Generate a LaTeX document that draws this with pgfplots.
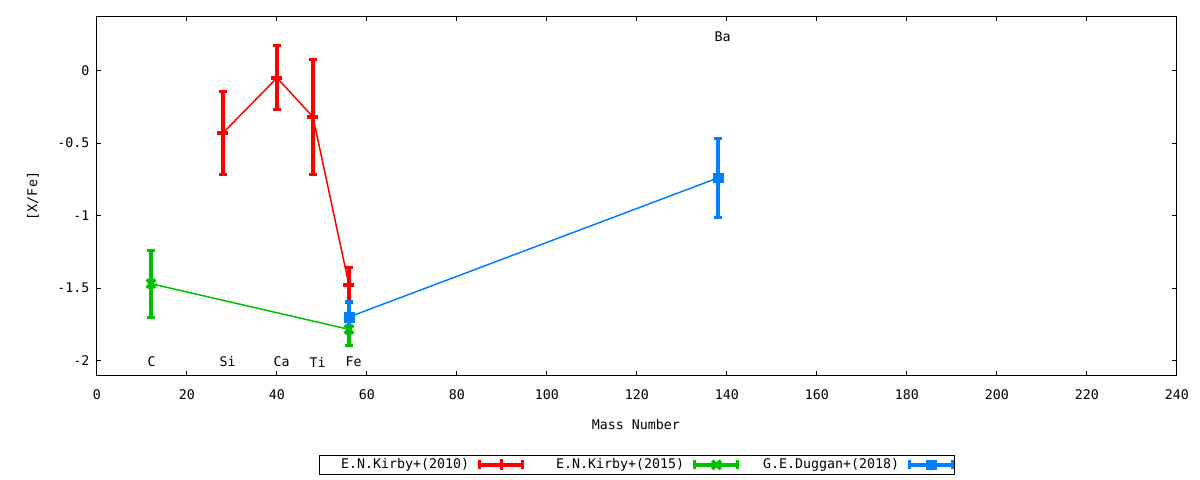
\documentclass[border=0pt]{standalone}
\usepackage{fontspec}
\setmainfont{DejaVu Sans Mono}
\usepackage{pgfplots}
\pgfplotsset{compat=1.18}

\definecolor{gpred}{RGB}{255,0,0}
\definecolor{gpgreen}{RGB}{0,192,0}
\definecolor{gpblue}{RGB}{0,128,255}

\pgfplotsset{
  gperr/.style={
    line width=1.5bp,
    error bars/y dir=both,
    error bars/y explicit,
    error bars/error bar style={line width=3.5bp},
    error bars/error mark options={rotate=90, line width=3bp, mark size=3.8bp},
  },
}

\begin{document}
\fontsize{13.3bp}{16bp}\selectfont
\begin{tikzpicture}
\path[use as bounding box] (-97bp,-105bp) rectangle (1103bp,375bp);
\begin{axis}[
    at={(0,0)}, anchor=south west,
    scale only axis, width=1080bp, height=358bp,
    xmin=0, xmax=240, ymin=-2.1, ymax=0.37,
    xtick={0,20,...,240},
    ytick={-2,-1.5,-1,-0.5,0},
    axis line style={line width=1bp},
    every tick/.style={black, line width=1bp},
    major tick length=4.5bp,
    /pgf/number format/assume math mode=true,
    /pgf/number format/fixed,
    xticklabel style={yshift=-9.5bp},
    yticklabel style={xshift=-3bp},
    xlabel={Mass Number},
    ylabel={[X/Fe]},
    x label style={at={(axis description cs:0.499,-0.137)}, anchor=center},
    y label style={at={(axis description cs:-0.0593,0.5)}, anchor=center},
    legend plot pos=right,
    legend columns=3,
    legend style={
        at={(axis description cs:0.5,-0.251)}, anchor=center,
        draw=black, line width=1bp,
        inner xsep=0bp, inner ysep=0.5bp,
        column sep=0pt,
        /tikz/every odd column/.append style={column sep=9bp},
        /tikz/every even column/.append style={column sep=9.5bp},
        nodes={inner xsep=0pt, inner ysep=3bp, text width=150bp, align=right},
    },
    legend image code/.code={
        \draw[#1, mark=none, line width=3.5bp] (0bp,0bp) -- (43bp,0bp);
        \draw[#1, mark=none, line width=3bp] (0bp,-4.5bp) -- (0bp,4.5bp) (43bp,-4.5bp) -- (43bp,4.5bp);
        \draw[#1] plot coordinates {(21.5bp,0bp)};
    },
]

% E.N.Kirby+(2010)
\addplot[gpred, mark=+, mark size=5.5bp, mark options={line width=3.5bp}, gperr]
  coordinates {
    (28,-0.43) +- (0,0.285)
    (40,-0.05) +- (0,0.22)
    (48,-0.32) +- (0,0.40)
    (56,-1.48) +- (0,0.12)
  };
\addlegendentry{E.N.Kirby+(2010)}

% E.N.Kirby+(2015)
\addplot[gpgreen, mark=x, mark size=6bp, mark options={line width=3.5bp}, gperr]
  coordinates {
    (12,-1.47) +- (0,0.23)
    (56,-1.785) +- (0,0.11)
  };
\addlegendentry{E.N.Kirby+(2015)}

% G.E.Duggan+(2018)
\addplot[gpblue, mark=square*, mark size=4.8bp, mark options={line width=0.5bp}, gperr]
  coordinates {
    (56,-1.70) +- (0,0.11)
    (138,-0.74) +- (0,0.27)
  };
\addlegendentry{G.E.Duggan+(2018)}

\node[anchor=west, inner sep=0pt] at (axis cs:11.2,-2.01) {C};
\node[anchor=west, inner sep=0pt] at (axis cs:27.2,-2.01) {Si};
\node[anchor=west, inner sep=0pt] at (axis cs:39.2,-2.01) {Ca};
\node[anchor=west, inner sep=0pt] at (axis cs:47.2,-2.01) {Ti};
\node[anchor=west, inner sep=0pt] at (axis cs:55.2,-2.01) {Fe};
\node[anchor=west, inner sep=0pt] at (axis cs:137.2,0.232) {Ba};
\end{axis}
\end{tikzpicture}
\end{document}
